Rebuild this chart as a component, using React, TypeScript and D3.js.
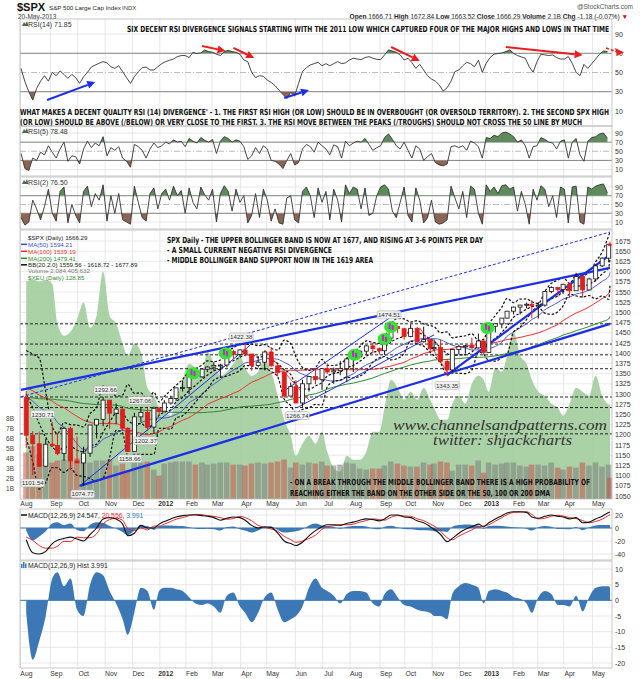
import React from "react";
import * as d3 from "d3";

// ---------------- calendar ----------------
const HOLIDAYS = ["2011-09-05","2011-11-24","2011-12-26","2012-01-02","2012-01-16","2012-02-20","2012-04-06","2012-05-28","2012-07-04","2012-09-03","2012-10-29","2012-10-30","2012-11-22","2012-12-25","2013-01-01","2013-01-21","2013-02-18","2013-03-29"];
const START_DAY = "2011-08-01";
const END_DAY = "2013-05-20";
const FIRST_WEEK_END = "2011-08-05";
const LAST_FULL_WEEK_END = "2013-05-17";
const MONTHS = ["Jan","Feb","Mar","Apr","May","Jun","Jul","Aug","Sep","Oct","Nov","Dec"];

// ---------------- weekly price data (one value per week) ----------------
const HIST_CLOSE = [1121,1079,1071,1064,1105,1110,1125,1148,1147,1166,1176,1183,1183,1225,1213,1199,1189,1225,1240,1244,1256,1258,1271,1293,1283,1276,1310,1329,1343,1320,1321,1304,1279,1313,1332,1328,1320,1333,1363,1356,1338,1333,1331,1300,1271,1271,1268,1340,1344,1316,1345,1292];

const CLOSE = [1199,1178,1123,1177,
 1174,1154,1216,1136,1131,
 1155,1224,1238,1285,
 1253,1263,1216,1159,
 1244,1255,1219,1265,1258,
 1278,1289,1315,1316,
 1345,1342,1361,1366,
 1370,1371,1404,1397,1408,
 1398,1370,1378,1403,
 1369,1353,1295,1318,
 1278,1325,1343,1335,1362,
 1354,1357,1362,1386,
 1391,1405,1418,1411,1406,
 1437,1466,1460,1441,
 1461,1428,1433,1411,
 1414,1380,1359,1409,1416,
 1418,1413,1430,1402,
 1466,1472,1486,1503,
 1513,1518,1520,1516,
 1518,1551,1561,1556,1569,
 1553,1588,1555,1582,
 1614,1633,1667,1666.29];

const HIGH = [1307,1209,1208,1190,
 1230.71,1204,1220,1220,1195,
 1171,1224,1239,1292.66,
 1285,1277,1265,1219,
 1254,1267.06,1266,1269,1269,
 1285,1296,1315,1333,
 1345,1354,1363,1368,
 1378,1374,1405,1409,1409,
 1422.38,1397,1392,1406,
 1415,1372,1355,1328,
 1334,1335,1343,1363,1363,
 1375,1365,1381,1390,
 1395,1407,1419,1426,1414,
 1438,1474.51,1467,1462,
 1471,1464,1465,1434,
 1434,1433,1386,1410,1421,
 1420,1438,1448,1431,
 1467,1472,1486,1503,
 1514,1518,1524,1530,
 1525,1552,1564,1560,1570,
 1573,1597,1588,1585,
 1618,1635,1668,1672.84];

const LOW = [1168,1101.54,1121,1122,
 1170,1150,1136,1114,1131,
 1074.77,1146,1191,1221,
 1215,1226,1209,1158.66,
 1187,1231,1209,1202.37,1248,
 1258,1274,1283,1306,
 1300,1337,1340,1354,
 1358,1340,1365,1386,1391,
 1392,1357,1365,1358,
 1367,1343,1291,1295,
 1277,1266.74,1306,1324,1310,
 1349,1325,1346,1329,
 1354,1391,1397,1400,1397,
 1396,1429,1449,1433,
 1439,1425,1426,1403,
 1406,1376,1343.35,1354,1397,
 1399,1411,1411,1398,
 1402,1451,1461,1485,
 1495,1495,1510,1486,
 1485,1514,1547,1538,1545,
 1536,1553,1536,1554,
 1577,1611,1623,1663.52];

const VOLUME_B = [4.6,5.2,4.4,4.0,
 3.6,3.8,3.9,4.3,4.0,
 4.3,3.6,3.8,3.8,
 3.9,3.3,3.5,2.8,
 3.9,3.6,3.7,2.9,2.3,
 3.5,3.6,3.7,3.7,
 3.7,3.4,3.6,3.4,
 3.5,3.6,3.6,3.4,3.4,
 3.3,3.5,3.6,3.5,
 3.6,3.7,3.9,3.1,
 3.6,3.4,3.6,3.5,3.7,
 3.3,3.3,3.4,3.6,
 3.5,3.0,2.9,3.0,3.0,
 3.3,3.7,3.5,3.3,
 3.2,3.2,3.6,3.4,
 3.5,3.7,3.6,2.8,3.4,
 3.4,3.3,3.8,2.6,
 3.6,3.4,3.5,3.6,
 3.6,3.3,3.2,3.4,
 3.4,3.3,3.6,3.1,2.9,
 3.2,3.1,3.6,3.3,
 3.6,3.2,3.4,2.1];

const XEU = [144.3,144.5,144.3,144.5,
 144,139,137.5,138,139.5,
 141.7,138.5,140,145.5,
 140,139,136.5,135,
 136.5,135.5,131,130,128.5,
 128,127.5,129.5,132,
 134,133.5,133,135.5,
 134,132.5,133,134,135,
 133.5,132.5,133,134.5,
 133,130,127,125,
 122.5,124,125,124,125.5,
 123,121,120.5,122.5,
 122,122,123,125.5,125.5,
 128.5,132,131,129.5,
 130.5,129.5,131,129.5,
 128.5,127,127,129,130,
 129,131.5,132.5,132,
 130.5,133.5,133,135,
 138,135,134,132,
 130.5,130,129,128.5,127.5,
 129,131,130.5,130,
 132.5,130,128.9,128.85];

const MACD = [-18,-38,-40,-36,
 -24,-19,-16,-14,-17,
 -20,-10,0,14,
 16,14,6,-12,
 -8,4,0,0,6,
 10,14,17,19,
 20,20,19,18,
 16,12,15,17,16,
 12,4,0,2,
 1,-8,-20,-24,
 -27,-22,-12,-4,2,
 5,5,4,7,
 9,12,14,13,11,
 14,20,20,17,
 16,11,8,2,
 -2,-10,-21,-16,-8,
 -2,2,6,2,
 8,14,19,23,
 25,25,24,17,
 15,18,20,18,17,
 14,16,8,9,
 14,18,24,24.547];

const MACD_HIST = [-4,-19,-13,-5,
 7,9,4.5,7,-3,
 -5,5,9,8,
 3,-1,-6,-11,
 -4,4,3,-3,3,
 4,4,3.5,3,
 1,-1,-1.5,-1,
 -2,-4,1.5,2.5,-2,
 -4,-7,-4,1,
 2.5,-3,-7,-6,
 -5,-2,4,7,4,
 3,1.5,-1,2,
 3,3,2.5,-1,-2,
 2,3.5,1,-1.5,
 -2,-3,-3.5,-4,
 -5,-5,-6,2,4.5,
 5.5,5,4,-1,
 3,3.5,3,2.5,
 1,0.5,-1,-4,
 1,3,2,-1.5,-1.5,
 -2,1.5,-3.5,1,
 4,4.5,4.5,3.991];

// ---------------- RSI data (one value every 3 trading days) ----------------
const RSI14 = [54.3,40.4,30,21.3,33.5,41,46.7,41,
 50.2,46.7,51.6,48,43.9,48,44.6,
 38.7,45.6,50.2,55.7,57.8,59.6,61.3,
 60,56,54.3,57,50.9,44.6,38.7,
 45.6,50.9,55,55.7,52.6,52.6,56,
 59.2,61.3,62.7,64,66.5,67.6,67.6,
 65.5,71,69.7,70.3,73.5,71.7,
 71,69,67.6,71.7,73,71.7,71,69,
 63,61.3,50.2,44.6,46.7,46,
 42.2,39.7,36.2,31.7,27.2,23,29.3,25.5,
 38.7,50.9,55,57.8,59.2,60.6,57,
 59.2,57,59.2,61.3,59.2,60,
 63,64.8,64,63.4,65.5,66.5,64.8,63.7,
 63.4,68.3,73.5,72.4,71,68.3,
 63,64.8,60.3,54.3,58.5,52.6,46.7,
 43.2,41,37,30.7,34.2,41,50.9,
 52.6,57,60.6,59.2,56,62.7,50.2,
 59.6,65.5,69,69.7,70.3,71.7,73.5,
 70,67.6,66.2,64.8,56,50.2,
 61.3,69,68.3,67.6,68.3,65.5,64,
 64,66.5,59.6,50.2,46.7,58.5,54.3,
 59.2,64,69,72.4,71.85];

const RSI5 = [45,12,8,35,30,48,42,62,
 48,35,55,70,28,40,38,
 22,55,72,58,68,62,82,
 40,58,52,60,35,28,15,
 65,60,52,35,55,68,58,
 62,70,66,75,70,72,60,
 78,72,68,80,74,70,
 76,45,72,82,78,70,75,72,
 60,32,40,58,45,62,
 55,30,28,22,12,30,45,20,
 25,55,65,60,48,70,62,
 55,42,64,60,35,72,
 62,68,72,70,78,65,52,58,
 62,80,88,76,62,55,
 70,52,35,62,55,30,38,
 45,25,20,18,22,60,62,
 58,62,52,72,68,60,35,
 80,78,85,82,90,92,88,
 82,70,75,62,35,60,
 62,80,76,70,68,55,72,
 75,35,70,78,42,28,72,
 80,82,88,90,78.48];

const RSI2 = [20,3,10,60,40,15,45,85,
 30,12,80,90,8,50,25,
 8,80,92,45,75,60,95,
 12,70,30,75,15,10,5,
 92,55,20,12,75,88,40,
 75,85,60,92,70,82,30,
 88,55,40,90,72,60,
 85,10,75,93,80,35,85,55,
 70,8,25,75,20,85,
 60,12,40,8,5,65,70,15,
 8,80,90,70,20,88,55,
 80,15,85,60,10,95,
 75,90,85,40,88,25,30,70,
 90,95,85,35,20,55,
 90,25,10,88,60,8,20,
 60,10,5,8,15,92,65,
 40,80,20,92,85,30,5,
 95,80,90,75,93,95,85,
 90,35,80,50,5,85,
 60,93,85,45,70,20,90,
 85,8,90,92,10,5,90,
 85,92,95,97,76.5];

// ---------------- axis tick labels ----------------
const PRICE_TICKS = [1675,1650,1625,1600,1575,1550,1525,1500,1475,1450,1425,1400,1375,1350,1325,1300,1275,1250,1225,1200,1175,1150,1125,1100,1075,1050];
const RSI_TICKS = [90,70,50,30,10];
const VOL_TICKS = [1,2,3,4,5,6,7,8];
const MACD_TICKS = [20,0,-20,-40];
const HIST_TICKS = [10,5,0,-5,-10,-15,-20];

// ---------------- annotations ----------------
const LEVELS = [1472,1422.38,1396,1362,1292.66,1266.74,1202.37];
const PRICE_LABELS = [
 { d: "2011-08-09", p: 1101.54, dx: 4, dy: 8 },
 { d: "2011-10-04", p: 1074.77, dx: 3, dy: 8 },
 { d: "2011-08-31", p: 1230.71, dx: -7, dy: -8 },
 { d: "2011-10-27", p: 1292.66, dx: 4, dy: -7 },
 { d: "2011-11-25", p: 1158.66, dx: 2, dy: 7 },
 { d: "2011-12-07", p: 1267.06, dx: 2, dy: -7 },
 { d: "2011-12-19", p: 1202.37, dx: -3, dy: 7 },
 { d: "2012-04-02", p: 1422.38, dx: 0, dy: -7 },
 { d: "2012-06-04", p: 1266.74, dx: 0, dy: 8 },
 { d: "2012-09-14", p: 1474.51, dx: -2, dy: -8 },
 { d: "2012-11-16", p: 1343.35, dx: 0, dy: 9 },
];
const TRENDLINES = [
 { d0: "2011-08-01", p0: 1310, d1: "2013-05-20", p1: 1609, w: 2.2, dash: false },
 { d0: "2011-08-01", p0: 1293, d1: "2013-05-20", p1: 1697, w: 1, dash: true },
 { d0: "2011-10-04", p0: 1074.77, d1: "2013-05-20", p1: 1472, w: 2.2, dash: false },
 { d0: "2011-10-04", p0: 1074.77, d1: "2012-04-12", p1: 1420, w: 1, dash: false },
 { d0: "2012-06-04", p0: 1266.74, d1: "2012-11-02", p1: 1445, w: 1, dash: false },
 { d0: "2012-05-21", p0: 1310, d1: "2012-09-21", p1: 1500, w: 1, dash: false },
 { d0: "2012-11-16", p0: 1347, d1: "2013-05-20", p1: 1641, w: 2.2, dash: false },
];
const RED_LINES = [
 { d0: "2012-04-27", p0: 1408, d1: "2012-06-15", p1: 1285 },
 { d0: "2012-10-16", p0: 1462, d1: "2012-11-16", p1: 1354 },
];
const BLOBS = [
 { d: "2012-02-08", p: 1351 }, { d: "2012-03-15", p: 1400 }, { d: "2012-08-06", p: 1396 },
 { d: "2012-09-07", p: 1435 }, { d: "2012-09-14", p: 1464 }, { d: "2013-01-03", p: 1462 },
];
const RSI_ARROWS = [
 { d0: "2011-08-29", v0: 21.4, d1: "2011-10-20", v1: 40.1, c: "#1a2ee8" },
 { d0: "2012-05-18", v0: 23.5, d1: "2012-06-15", v1: 31.8, c: "#1a2ee8" },
 { d0: "2012-02-17", v0: 77.5, d1: "2012-03-15", v1: 72.3, c: "#ee1c1c" },
 { d0: "2012-03-23", v0: 75.5, d1: "2012-04-17", v1: 65.1, c: "#ee1c1c" },
 { d0: "2012-09-14", v0: 76.5, d1: "2012-10-16", v1: 62, c: "#ee1c1c" },
 { d0: "2013-01-24", v0: 76.5, d1: "2013-04-19", v1: 68.2, c: "#ee1c1c" },
];

const SANS = "'Liberation Sans', Arial, sans-serif";
const NARROW = "'Liberation Sans Narrow', 'DejaVu Sans Condensed', 'Liberation Sans', sans-serif";

function isoAdd(iso: string, n: number) {
  const d = new Date(iso + "T00:00:00Z");
  d.setUTCDate(d.getUTCDate() + n);
  return d.toISOString().slice(0, 10);
}
function buildDays() {
  const out: string[] = [];
  let cur = START_DAY;
  while (cur <= END_DAY) {
    const wd = new Date(cur + "T00:00:00Z").getUTCDay();
    if (wd !== 0 && wd !== 6 && HOLIDAYS.indexOf(cur) < 0) out.push(cur);
    cur = isoAdd(cur, 1);
  }
  return out;
}
function buildWeekEnds() {
  const out: string[] = [];
  let cur = FIRST_WEEK_END;
  while (cur <= LAST_FULL_WEEK_END) { out.push(cur); cur = isoAdd(cur, 7); }
  out.push(END_DAY);
  return out;
}

const PL = 20, PR = 612;

function Cond(props: { x: number; y: number; w: number; children: any }) {
  return (
    <text transform={`translate(${props.x},${props.y}) scale(1,1.4)`} fontSize={6} fontWeight="bold" fontFamily={NARROW} fill="#111" textLength={props.w} lengthAdjust="spacingAndGlyphs">{props.children}</text>
  );
}

export default function App() {
  const days = buildDays();
  const n = days.length;
  const x = d3.scaleLinear().domain([0, n - 1]).range([21, 610]);
  const dIdx = (iso: string) => Math.max(0, d3.bisectRight(days, iso) - 1);
  const xd = (iso: string) => x(dIdx(iso));
  const weekEnds = buildWeekEnds();
  const wN = Math.min(weekEnds.length, CLOSE.length);
  const wx = (i: number) => x(dIdx(weekEnds[i]));
  const kx = (k: number) => x(Math.min(k * 3, n - 1));

  const monthStarts: { i: number; d: string }[] = [];
  days.forEach((d, i) => { if (i === 0 || d.slice(0, 7) !== days[i - 1].slice(0, 7)) monthStarts.push({ i, d }); });
  const gx = (i: number) => x(i) - 0.6;

  const P = {
    r14: { t: 19, b: 126 }, r5: { t: 126, b: 176 }, r2: { t: 177, b: 229 },
    main: { t: 230, b: 499 }, macd: { t: 509, b: 560 }, hist: { t: 561, b: 668 },
  };
  const yR14 = d3.scaleLinear().domain([10, 90]).range([111, 34]);
  const yR5 = d3.scaleLinear().domain([10, 90]).range([169.5, 133]);
  const yR2 = d3.scaleLinear().domain([10, 90]).range([222, 187]);
  const yP = d3.scaleLinear().domain([1050, 1675]).range([496, 241]);
  const yV = d3.scaleLinear().domain([0, 8]).range([499, 418]);
  const yX = d3.scaleLinear().domain([128.85, 144.35]).range([405, 281]);
  const yM = d3.scaleLinear().domain([-40, 20]).range([554, 515]);
  const yH = d3.scaleLinear().domain([-20, 10]).range([663, 569]);

  const allClose = HIST_CLOSE.concat(CLOSE);
  const off = HIST_CLOSE.length;
  const sma = (len: number) => CLOSE.slice(0, wN).map((_, j) => d3.mean(allClose.slice(off + j - len + 1, off + j + 1)) as number);
  const ma50 = sma(10), ma100 = sma(20), ma200 = sma(40);
  const bb = CLOSE.slice(0, wN).map((_, j) => {
    const win = allClose.slice(off + j - 4, off + j + 1);
    const m = d3.mean(win) as number;
    const sd = Math.sqrt(d3.mean(win.map(v => (v - m) * (v - m))) as number);
    return { m, up: m + 2 * sd, lo: m - 2 * sd };
  });
  const signal = MACD.map((v, i) => v - MACD_HIST[i]);

  const wline = (arr: number[], y: any) => d3.line<number>().x((_, i) => wx(i)).y(v => y(v)).curve(d3.curveMonotoneX)(arr.slice(0, wN)) || "";

  const vGrid = (t: number, b: number) => monthStarts.map((m, j) => (
    <line key={"g" + j} x1={gx(m.i)} x2={gx(m.i)} y1={t} y2={b} stroke="#e2e2e2" strokeWidth={0.8} />
  ));

  const rsiPanel = (id: string, vals: number[], pan: { t: number; b: number }, y: any, label: string) => {
    const line = d3.line<number>().x((_, k) => kx(k)).y(v => y(v))(vals) || "";
    const aHi = d3.area<number>().x((_, k) => kx(k)).y0(y(70)).y1(v => y(v))(vals) || "";
    const aLo = d3.area<number>().x((_, k) => kx(k)).y0(y(30)).y1(v => y(v))(vals) || "";
    return (
      <g key={id}>
        <clipPath id={id + "hi"}><rect x={PL} y={pan.t} width={PR - PL} height={y(70) - pan.t} /></clipPath>
        <clipPath id={id + "lo"}><rect x={PL} y={y(30)} width={PR - PL} height={pan.b - y(30)} /></clipPath>
        <clipPath id={id + "all"}><rect x={PL} y={pan.t} width={PR - PL} height={pan.b - pan.t} /></clipPath>
        {vGrid(pan.t, pan.b)}
        {[90, 10].map(v => <line key={v} x1={PL} x2={PR} y1={y(v)} y2={y(v)} stroke="#e2e2e2" strokeWidth={0.8} />)}
        <line x1={PL} x2={PR} y1={y(70)} y2={y(70)} stroke="#8a8a8a" strokeWidth={1} />
        <line x1={PL} x2={PR} y1={y(30)} y2={y(30)} stroke="#8a8a8a" strokeWidth={1} />
        <line x1={PL} x2={PR} y1={y(50)} y2={y(50)} stroke="#b5b5b5" strokeWidth={0.9} strokeDasharray="6,2,1,2" />
        <path d={aHi} fill="#5e8a5c" clipPath={`url(#${id}hi)`} />
        <path d={aLo} fill="#8a6554" clipPath={`url(#${id}lo)`} />
        <path d={line} fill="none" stroke="#333" strokeWidth={0.9} clipPath={`url(#${id}all)`} />
        <rect x={PL} y={pan.t} width={PR - PL} height={pan.b - pan.t} fill="none" stroke="#b9b9b9" strokeWidth={0.8} />
        {RSI_TICKS.map(v => <text key={v} x={615} y={y(v) + 2.5} fontSize={7} fontFamily={SANS} fill="#333">{v}</text>)}
        <path d={`M22,${pan.t + 7} l2,-4 l1.5,2 l1.5,-3 l1.5,5 z`} fill="#4a6a4a" />
        <text x={28} y={pan.t + 7.5} fontSize={7} fontFamily={SANS} fill="#333">{label}</text>
      </g>
    );
  };

  const arrow = (a: any, i: number) => {
    const x0 = xd(a.d0), y0 = yR14(a.v0), x1 = xd(a.d1), y1 = yR14(a.v1);
    const ang = Math.atan2(y1 - y0, x1 - x0);
    const L = 8, Wd = 4;
    const bx = x1 - L * Math.cos(ang), by = y1 - L * Math.sin(ang);
    const px = -Math.sin(ang) * Wd, py = Math.cos(ang) * Wd;
    return (
      <g key={"ar" + i}>
        <line x1={x0} y1={y0} x2={bx} y2={by} stroke={a.c} strokeWidth={2} />
        <path d={`M${x1},${y1} L${bx + px},${by + py} L${bx - px},${by - py} Z`} fill={a.c} />
      </g>
    );
  };

  return (
    <svg width={640} height={679} style={{ position: "absolute", left: 0, top: 0, background: "#fff" }}>
      <rect x={0} y={0} width={640} height={679} fill="#fff" />
      {/* header */}
      <text x={17} y={11} fontSize={11} fontWeight="bold" fontFamily={SANS} fill="#111">$SPX</text>
      <text x={49} y={10} fontSize={6.2} fontFamily={SANS} fill="#222">S&amp;P 500 Large Cap Index</text>
      <text x={122} y={10} fontSize={6} fontFamily={SANS} fill="#444">INDX</text>
      <text x={18} y={18.5} fontSize={6.5} fontFamily={SANS} fill="#333">20-May-2013</text>
      <text x={633} y={9} fontSize={6.5} fontFamily={SANS} fill="#555" textAnchor="end">@StockCharts.com</text>
      <text x={628} y={18.5} fontSize={6.6} fontFamily={SANS} fill="#222" textAnchor="end">
        <tspan fontWeight="bold">Open</tspan> 1666.71 <tspan fontWeight="bold">High</tspan> 1672.84 <tspan fontWeight="bold">Low</tspan> 1663.52 <tspan fontWeight="bold">Close</tspan> 1666.29 <tspan fontWeight="bold">Volume</tspan> 2.1B <tspan fontWeight="bold">Chg</tspan> -1.18 (-0.07%) <tspan fill="#d00">▼</tspan>
      </text>

      {/* RSI panels */}
      {rsiPanel("r14", RSI14, P.r14, yR14, "RSI(14) 71.85")}
      {RSI_ARROWS.map(arrow)}
      <line x1={xd("2013-05-15")} y1={yR14(75.5)} x2={616} y2={yR14(71.5)} stroke="#ee1c1c" strokeWidth={1.6} strokeDasharray="3,2" />
      <path d={`M624,${yR14(70.8)} L615,${yR14(75.5)} L617,${yR14(67.5)} Z`} fill="#ee1c1c" />
      <Cond x={127} y={32} w={482}>SIX DECENT RSI DIVERGENCE SIGNALS STARTING WITH THE 2011 LOW WHICH CAPTURED FOUR OF THE MAJOR HIGHS AND LOWS IN THAT TIME</Cond>
      <Cond x={20} y={115} w={589}>WHAT MAKES A DECENT QUALITY RSI (14) DIVERGENCE' - 1. THE FIRST RSI HIGH (OR LOW) SHOULD BE IN OVERBOUGHT (OR OVERSOLD TERRITORY). 2. THE SECOND SPX HIGH</Cond>
      <Cond x={20} y={125} w={562}>(OR LOW) SHOULD BE ABOVE (/BELOW) OR VERY CLOSE TO THE FIRST. 3. THE RSI MOVE BETWEEN THE PEAKS (/TROUGHS) SHOULD NOT CROSS THE 50 LINE BY MUCH</Cond>
      {rsiPanel("r5", RSI5, P.r5, yR5, "RSI(5) 78.48")}
      {rsiPanel("r2", RSI2, P.r2, yR2, "RSI(2) 76.50")}

      {/* main panel */}
      <clipPath id="mainClip"><rect x={PL} y={P.main.t} width={PR - PL} height={P.main.b - P.main.t} /></clipPath>
      <g clipPath="url(#mainClip)">
        {vGrid(P.main.t, P.main.b)}
        {PRICE_TICKS.map(v => <line key={v} x1={PL} x2={PR} y1={yP(v)} y2={yP(v)} stroke="#e6e6e6" strokeWidth={0.8} />)}
        <path d={d3.area<number>().x((_, i) => wx(i)).y0(P.main.b).y1(v => yX(v)).curve(d3.curveMonotoneX)(XEU.slice(0, wN)) || ""} fill="#a2cc9d" opacity={0.9} />
        {VOLUME_B.slice(0, wN).map((v, i) => {
          const isUp = CLOSE[i] >= (i === 0 ? 1292 : CLOSE[i - 1]);
          return <rect key={"v" + i} x={wx(i) - 3} y={yV(v)} width={5.6} height={P.main.b - yV(v)} fill={isUp ? "#7c7c7c" : "#c4504a"} opacity={0.55} />;
        })}
        {LEVELS.map(l => <line key={l} x1={PL} x2={PR} y1={yP(l)} y2={yP(l)} stroke="#222" strokeWidth={1} strokeDasharray="3,2" />)}
        <path d={wline(ma200, yP)} fill="none" stroke="#2e8b2e" strokeWidth={1} />
        <path d={wline(ma100, yP)} fill="none" stroke="#ee3030" strokeWidth={1} />
        <path d={wline(ma50, yP)} fill="none" stroke="#3a4fc8" strokeWidth={0.9} />
        {["up", "m", "lo"].map(k => (
          <path key={k} d={wline(bb.map((b: any) => b[k]), yP)} fill="none" stroke="#111" strokeWidth={1.2} strokeDasharray="2.5,1.8" />
        ))}
        {TRENDLINES.map((t, i) => (
          <line key={"t" + i} x1={xd(t.d0)} y1={yP(t.p0)} x2={xd(t.d1)} y2={yP(t.p1)} stroke="#1b2fe6" strokeWidth={t.w} strokeDasharray={t.dash ? "3,2" : undefined} />
        ))}
        {RED_LINES.map((t, i) => (
          <line key={"r" + i} x1={xd(t.d0)} y1={yP(t.p0)} x2={xd(t.d1)} y2={yP(t.p1)} stroke="#ee2a2a" strokeWidth={0.9} />
        ))}
        {CLOSE.slice(0, wN).map((c, i) => {
          const o = i === 0 ? 1292 : CLOSE[i - 1];
          const isUp = c >= o;
          const col = isUp ? "#111" : "#e01e1e";
          const cx = wx(i);
          return (
            <g key={"c" + i}>
              <line x1={cx} x2={cx} y1={yP(HIGH[i])} y2={yP(LOW[i])} stroke={col} strokeWidth={1} />
              <rect x={cx - 2} y={yP(Math.max(o, c))} width={4} height={Math.max(1, Math.abs(yP(o) - yP(c)))} fill={isUp ? "#fff" : "#e01e1e"} stroke={col} strokeWidth={0.8} />
            </g>
          );
        })}
        {BLOBS.map((b, i) => (
          <g key={"b" + i}>
            <ellipse cx={xd(b.d)} cy={yP(b.p)} rx={7} ry={6} fill="#2ee82e" />
            <rect x={xd(b.d) - 2.5} y={yP(b.p) - 4} width={2} height={6} fill="#d020d0" />
            <rect x={xd(b.d) + 0.5} y={yP(b.p) - 2} width={2} height={5} fill="#d020d0" />
          </g>
        ))}
        {PRICE_LABELS.map((l, i) => {
          const cx = xd(l.d) + l.dx, cy = yP(l.p) + l.dy;
          return (
            <g key={"pl" + i}>
              <rect x={cx - 12} y={cy - 4} width={24} height={8} rx={2} fill="#f3f3f3" stroke="#aaa" strokeWidth={0.6} opacity={0.95} />
              <text x={cx} y={cy + 2.3} fontSize={6.2} fontFamily={SANS} fill="#333" textAnchor="middle">{l.p.toFixed(2)}</text>
            </g>
          );
        })}
      </g>
      <rect x={PL} y={P.main.t} width={PR - PL} height={P.main.b - P.main.t} fill="none" stroke="#b9b9b9" strokeWidth={0.8} />
      {PRICE_TICKS.map(v => <text key={v} x={615} y={yP(v) + 2.5} fontSize={7} fontFamily={SANS} fill="#333">{v}</text>)}
      {VOL_TICKS.map(v => <text key={v} x={6} y={yV(v) + 2.5} fontSize={6.5} fontFamily={SANS} fill="#444">{v}B</text>)}
      <g fontFamily={SANS} fontSize={6.2}>
        <text x={28} y={239.5} fill="#222">$SPX (Daily) 1666.29</text>
        <line x1={21} x2={27} y1={244.3} y2={244.3} stroke="#3a4fc8" strokeWidth={1.5} />
        <text x={28} y={246.5} fill="#3a4fc8">MA(50) 1594.21</text>
        <line x1={21} x2={27} y1={251.3} y2={251.3} stroke="#ee3030" strokeWidth={1.5} />
        <text x={28} y={253.5} fill="#ee3030">MA(100) 1539.19</text>
        <line x1={21} x2={27} y1={258.3} y2={258.3} stroke="#2e8b2e" strokeWidth={1.5} />
        <text x={28} y={260.5} fill="#2e8b2e">MA(200) 1479.41</text>
        <line x1={21} x2={27} y1={264.8} y2={264.8} stroke="#111" strokeWidth={1.5} />
        <text x={28} y={267} fill="#222">BB(20,2.0) 1559.56 - 1618.72 - 1677.89</text>
        <text x={28} y={273.3} fill="#777">Volume 2,084,405,632</text>
        <text x={28} y={279.8} fill="#3a8a3a">$XEU (Daily) 128.85</text>
      </g>
      <Cond x={167} y={243} w={316}>SPX Daily - THE UPPER BOLLINGER BAND IS NOW AT 1677, AND RISING AT 3-6 POINTS PER DAY</Cond>
      <Cond x={167} y={253} w={165}>- A SMALL CURRENT NEGATIVE RSI DIVERGENCE</Cond>
      <Cond x={167} y={263} w={206}>- MIDDLE BOLLINGER BAND SUPPORT NOW IN THE 1619 AREA</Cond>
      <Cond x={290} y={485} w={300}>- ON A BREAK THROUGH THE MIDDLE BOLLINGER BAND THERE IS A HIGH PROBABILITY OF</Cond>
      <Cond x={290} y={496} w={260}>REACHING EITHER THE BAND ON THE OTHER SIDE OR THE 50, 100 OR 200 DMA</Cond>
      <text x={393} y={430} fontSize={14} fontStyle="italic" fontFamily="'Liberation Serif', 'DejaVu Serif', serif" fill="#333" textLength={214} lengthAdjust="spacingAndGlyphs">www.channelsandpatterns.com</text>
      <text x={433} y={445} fontSize={14} fontStyle="italic" fontFamily="'Liberation Serif', 'DejaVu Serif', serif" fill="#333" textLength={139} lengthAdjust="spacingAndGlyphs">twitter: shjackcharts</text>

      {monthStarts.map((m, j) => {
        const mo = +m.d.slice(5, 7);
        const lab = mo === 1 ? m.d.slice(0, 4) : MONTHS[mo - 1];
        return <text key={"xl" + j} x={gx(m.i) + 6} y={506} fontSize={6.8} fontFamily={SANS} fontWeight={mo === 1 ? "bold" : "normal"} fill="#333" textAnchor="middle">{lab}</text>;
      })}

      {/* MACD panel */}
      <clipPath id="macdClip"><rect x={PL} y={P.macd.t} width={PR - PL} height={P.macd.b - P.macd.t} /></clipPath>
      {vGrid(P.macd.t, P.macd.b)}
      {MACD_TICKS.map(v => <line key={v} x1={PL} x2={PR} y1={yM(v)} y2={yM(v)} stroke="#e2e2e2" strokeWidth={0.8} />)}
      <g clipPath="url(#macdClip)">
        <path d={d3.area<number>().x((_, i) => wx(i)).y0(yM(0)).y1(v => yM(v)).curve(d3.curveMonotoneX)(MACD_HIST.slice(0, wN)) || ""} fill="#3c78b6" />
        <line x1={PL} x2={PR} y1={yM(0)} y2={yM(0)} stroke="#3c78b6" strokeWidth={1} />
        <path d={wline(signal, yM)} fill="none" stroke="#ee2a2a" strokeWidth={1} />
        <path d={wline(MACD, yM)} fill="none" stroke="#111" strokeWidth={1.1} />
      </g>
      <rect x={PL} y={P.macd.t} width={PR - PL} height={P.macd.b - P.macd.t} fill="none" stroke="#b9b9b9" strokeWidth={0.8} />
      {MACD_TICKS.map(v => <text key={v} x={615} y={yM(v) + 2.5} fontSize={7} fontFamily={SANS} fill="#333">{v}</text>)}
      <line x1={21} x2={27} y1={515} y2={515} stroke="#111" strokeWidth={1.5} />
      <text x={28} y={517.5} fontSize={6.8} fontFamily={SANS} fill="#222">MACD(12,26,9) 24.547, <tspan fill="#ee2a2a">20.556</tspan>, <tspan fill="#3c78b6">3.991</tspan></text>

      {/* MACD histogram panel */}
      <clipPath id="histClip"><rect x={PL} y={P.hist.t} width={PR - PL} height={P.hist.b - P.hist.t} /></clipPath>
      {vGrid(P.hist.t, P.hist.b)}
      {HIST_TICKS.map(v => <line key={v} x1={PL} x2={PR} y1={yH(v)} y2={yH(v)} stroke="#e2e2e2" strokeWidth={0.8} />)}
      <g clipPath="url(#histClip)">
        <path d={d3.area<number>().x((_, i) => wx(i)).y0(yH(0)).y1(v => yH(v)).curve(d3.curveMonotoneX)(MACD_HIST.slice(0, wN)) || ""} fill="#3c78b6" />
        <line x1={PL} x2={PR} y1={yH(0)} y2={yH(0)} stroke="#3c78b6" strokeWidth={1} />
      </g>
      <rect x={PL} y={P.hist.t} width={PR - PL} height={P.hist.b - P.hist.t} fill="none" stroke="#b9b9b9" strokeWidth={0.8} />
      {HIST_TICKS.map(v => <text key={v} x={615} y={yH(v) + 2.5} fontSize={7} fontFamily={SANS} fill="#333">{v}</text>)}
      <rect x={21} y={564} width={1.5} height={4} fill="#3c78b6" /><rect x={23} y={562} width={1.5} height={6} fill="#3c78b6" /><rect x={25} y={563.5} width={1.5} height={4.5} fill="#3c78b6" />
      <text x={28} y={568} fontSize={6.8} fontFamily={SANS} fill="#222">MACD(12,26,9) Hist 3.991</text>

      {monthStarts.map((m, j) => {
        const mo = +m.d.slice(5, 7);
        const lab = mo === 1 ? m.d.slice(0, 4) : MONTHS[mo - 1];
        return <text key={"bl" + j} x={gx(m.i) + 6} y={676} fontSize={6.8} fontFamily={SANS} fontWeight={mo === 1 ? "bold" : "normal"} fill="#333" textAnchor="middle">{lab}</text>;
      })}
    </svg>
  );
}
